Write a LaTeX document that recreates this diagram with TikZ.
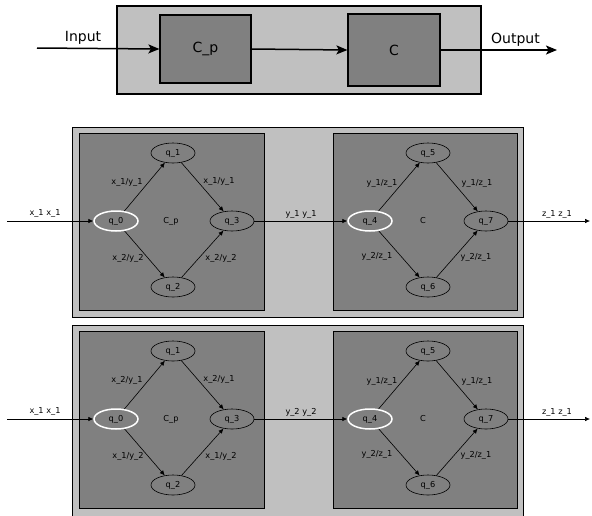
\documentclass[tikz,border=0pt]{standalone}
\usepackage{fontspec}
\setmainfont{DejaVu Sans}
\usetikzlibrary{arrows.meta,shapes.geometric}

\definecolor{outergray}{RGB}{192,192,192}
\definecolor{innergray}{RGB}{128,128,128}

\tikzset{
  outerbox/.style={draw=black, fill=outergray, line width=0.9pt},
  innerbox/.style={draw=black, fill=innergray, line width=0.9pt},
  bigbox/.style={draw=black, fill=innergray, line width=1.2pt},
  bigarrow/.style={line width=1.5pt, -{Stealth[length=11pt,width=9pt,inset=2.5pt]}},
  bigtext/.style={font=\fontsize{14}{16.8}\selectfont, inner sep=0pt},
  smalltext/.style={font=\fontsize{8.2}{9.8}\selectfont, inner sep=0pt, text=black},
  state/.style={ellipse, draw=black, line width=0.6pt, fill=innergray,
    minimum width=44pt, minimum height=20pt, inner sep=0pt,
    font=\fontsize{8.2}{9.8}\selectfont},
  initstate/.style={state, draw=white, line width=1.5pt},
  trans/.style={line width=0.6pt, -{Latex[length=5pt,width=4.5pt]}},
}

% One row: two automata inside a shared frame, with input, link and output arrows.
% #1 name prefix, #2 vertical offset, #3 frame bottom, #4 upper labels, #5 lower labels, #6 link label
\newcommand\automatonrow[6]{
  \begin{scope}[shift={(0,#2)}]
    \draw[outerbox] (72,127) rectangle (523,#3);
    \draw[innerbox] (79,133) rectangle (264,310);
    \draw[innerbox] (333,133) rectangle (517,310);
    % first automaton
    \node[initstate] (#1q0) at (116,221) {q\_0};
    \node[state] (#1q1) at (173,153) {q\_1};
    \node[state] (#1q2) at (173,287) {q\_2};
    \node[state] (#1q3) at (232,221) {q\_3};
    \node[smalltext] (#1cp) at (171,221) {C\_p};
    \draw[trans] (#1q0) -- (#1q1);
    \draw[trans] (#1q1) -- (#1q3);
    \draw[trans] (#1q0) -- (#1q2);
    \draw[trans] (#1q2) -- (#1q3);
    \node[smalltext] (#1la) at (127,182) {#4};
    \node[smalltext] (#1lb) at (219,181) {#4};
    \node[smalltext] (#1lc) at (128,258) {#5};
    \node[smalltext] (#1ld) at (221,258) {#5};
    % second automaton
    \node[initstate] (#1q4) at (370,221) {q\_4};
    \node[state] (#1q5) at (428,153) {q\_5};
    \node[state] (#1q6) at (428,287) {q\_6};
    \node[state] (#1q7) at (486,221) {q\_7};
    \node[smalltext] (#1c) at (423,221) {C};
    \draw[trans] (#1q4) -- (#1q5);
    \draw[trans] (#1q5) -- (#1q7);
    \draw[trans] (#1q4) -- (#1q6);
    \draw[trans] (#1q6) -- (#1q7);
    \node[smalltext] (#1le) at (382,183) {y\_1/z\_1};
    \node[smalltext] (#1lf) at (477,183) {y\_1/z\_1};
    \node[smalltext] (#1lg) at (377,256) {y\_2/z\_1};
    \node[smalltext] (#1lh) at (476,257) {y\_2/z\_1};
    % input, link and output
    \coordinate (#1in) at (7,221);
    \coordinate (#1out) at (590,221);
    \draw[trans] (#1in) -- (#1q0);
    \draw[trans] (#1q3) -- (#1q4);
    \draw[trans] (#1q7) -- (#1out);
    \node[smalltext] (#1lin) at (45,213) {x\_1 x\_1};
    \node[smalltext] (#1llink) at (301,214) {#6};
    \node[smalltext] (#1lout) at (557,214) {z\_1 z\_1};
  \end{scope}
}

\begin{document}
\begin{tikzpicture}[x=1pt,y=-1pt]
  \useasboundingbox (0,0) rectangle (592,515);
  \clip (0,0) rectangle (592,515);
  \fill[white] (0,0) rectangle (592,515);

  % overview: C_p followed by C
  \draw[outerbox, line width=1.2pt] (117,6) rectangle (481,94);
  \node[bigbox, minimum width=91pt, minimum height=68pt, inner sep=0pt] (cp) at (205.5,49) {};
  \node[bigbox, minimum width=92pt, minimum height=72pt, inner sep=0pt] (c) at (394,50) {};
  \node[bigtext] (cptext) at (205.5,49) {C\_p};
  \node[bigtext] (ctext) at (394,50) {C};
  \coordinate (input) at (37,48);
  \coordinate (output) at (557,50);
  \draw[bigarrow] (input) -- (cp.west);
  \draw[bigarrow] (cp.east) -- (c.west);
  \draw[bigarrow] (c.east) -- (output);
  \node[bigtext] (inputtext) at (83,38) {Input};
  \node[bigtext] (outputtext) at (515.5,40) {Output};

  % detailed rows
  \automatonrow{a}{0}{317}{x\_1/y\_1}{x\_2/y\_2}{y\_1 y\_1}
  \automatonrow{b}{198}{330}{x\_2/y\_1}{x\_1/y\_2}{y\_2 y\_2}
\end{tikzpicture}
\end{document}
